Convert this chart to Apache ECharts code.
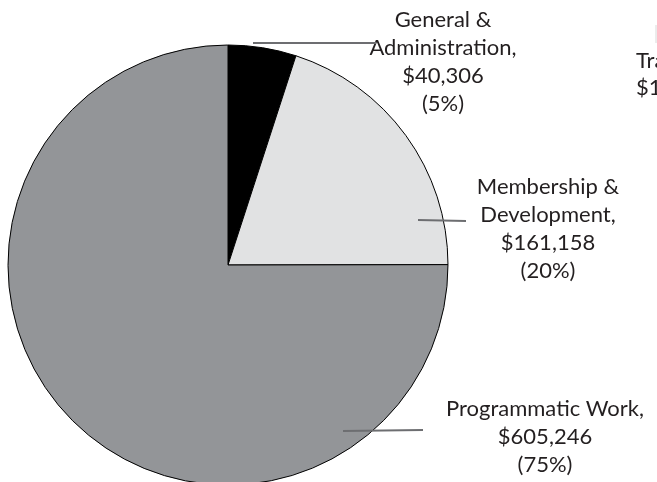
<!DOCTYPE html>
<html>
<head>
<meta charset="utf-8">
<script src="https://cdn.jsdelivr.net/npm/echarts@6/dist/echarts.min.js"></script>
<style>
  html, body { margin: 0; padding: 0; background: #fff; }
  #chart { width: 657px; height: 482px; }
</style>
</head>
<body>
<div id="chart"></div>
<script>
// expense breakdown
const categories = ['General &\nAdministration', 'Membership &\nDevelopment', 'Programmatic Work'];
const amounts = [40306, 161158, 605246];
const sliceColors = ['#000000', '#e1e2e3', '#939598'];

// where each label block sits, and its leader line (px)
const labelSpots = [
  { x: 443, y: 62, line: [253, 43, 376, 43] },
  { x: 548, y: 229, line: [418, 220, 466, 221] },
  { x: 545, y: 437, line: [343, 431, 423, 430] }
];

const fmtMoney = v => '$' + v.toLocaleString('en-US');

const leaderLines = labelSpots.map(s => ({
  type: 'line',
  z: 100,
  silent: true,
  shape: { x1: s.line[0], y1: s.line[1], x2: s.line[2], y2: s.line[3] },
  style: { stroke: '#6d6e71', lineWidth: 2 }
}));

const chart = echarts.init(document.getElementById('chart'));
chart.setOption({
  animation: false,
  backgroundColor: '#fff',
  series: [{
    type: 'pie',
    center: [228, 265],
    radius: 220,
    startAngle: 90,
    clockwise: true,
    data: categories.map((name, i) => ({
      name: name,
      value: amounts[i],
      itemStyle: { color: sliceColors[i] }
    })),
    itemStyle: {
      borderColor: '#000',
      borderWidth: 1
    },
    emphasis: { disabled: true },
    label: {
      show: true,
      position: 'outside',
      color: '#231f20',
      fontFamily: 'Lato',
      fontSize: 22,
      lineHeight: 28,
      align: 'center',
      overflow: 'none',
      width: 260,
      formatter: p => p.name + ',\n' + fmtMoney(p.value) + '\n(' + Math.round(p.percent) + '%)'
    },
    labelLine: { show: false },
    labelLayout: p => {
      const s = labelSpots[p.dataIndex];
      return {
        x: s.x,
        y: s.y,
        align: 'center',
        verticalAlign: 'middle'
      };
    }
  }],
  graphic: leaderLines.concat([
    // next chart peeking in at the right edge
    { type: 'line', shape: { x1: 656, y1: 25, x2: 656, y2: 43 }, style: { stroke: '#d8d8d8', lineWidth: 1 } },
    { type: 'text', left: 636, top: 50, style: { text: 'Transfers', fill: '#231f20', font: '22px Lato' } },
    { type: 'text', left: 636, top: 77, style: { text: '$1', fill: '#231f20', font: '22px Lato' } }
  ])
});
</script>
</body>
</html>
